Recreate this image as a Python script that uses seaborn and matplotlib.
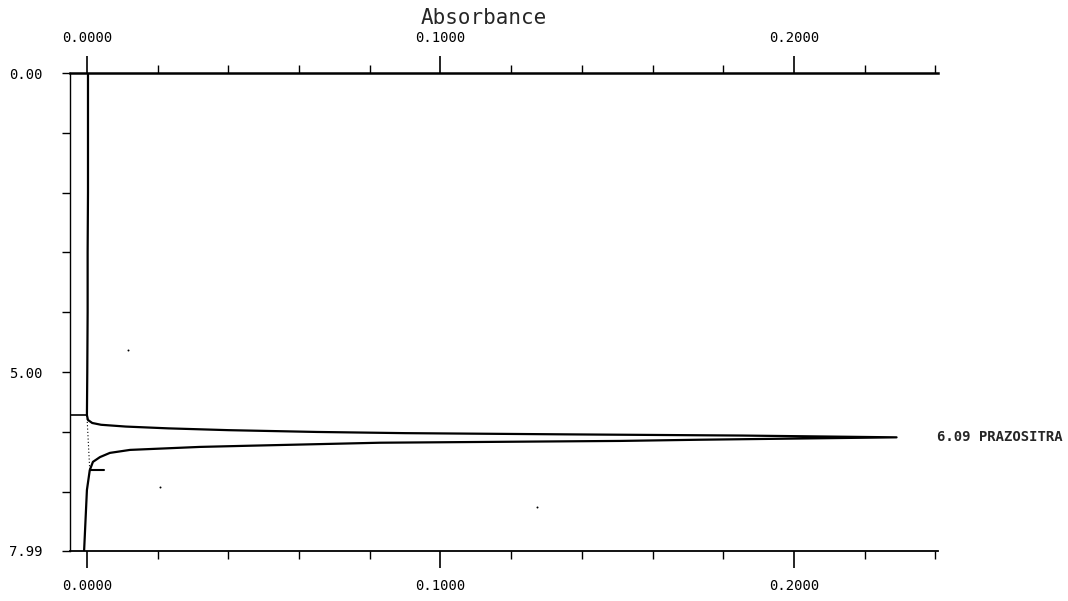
import matplotlib
matplotlib.use("Agg")
import matplotlib.pyplot as plt
import numpy as np
import pandas as pd
import seaborn as sns
from matplotlib.ticker import MultipleLocator, FixedLocator

# ---- data (time in min, absorbance) ----
time_min = [0.00, 1.00, 2.00, 3.00, 4.00, 5.00, 5.72, 5.80, 5.85, 5.88, 5.91,
            5.94, 5.97, 6.00, 6.02, 6.04, 6.06, 6.09, 6.13, 6.15, 6.18, 6.23,
            6.25, 6.30, 6.35, 6.42, 6.50, 6.64, 6.97, 7.99]
absorbance = [0.0003, 0.0003, 0.0003, 0.0002, 0.0002, 0.0001, 0.0000, 0.0003,
              0.0015, 0.0040, 0.0110, 0.0230, 0.0400, 0.0650, 0.0900, 0.1350,
              0.1850, 0.2290, 0.1734, 0.1508, 0.0829, 0.0461, 0.0320, 0.0122,
              0.0065, 0.0037, 0.0017, 0.0008, 0.0000, -0.0008]

peak_time = 6.09
peak_abs = 0.2290
peak_name = "PRAZOSITRA"
peak_start_time = 5.72
peak_start_abs = 0.0000
peak_end_time = 6.64
peak_end_abs = 0.0008
peak_end_mark_abs = 0.0048

speck_time = [4.63, 6.92, 7.25]
speck_abs = [0.0116, 0.0207, 0.1273]

x_major = [0.0, 0.1, 0.2]
x_labels = ["0.0000", "0.1000", "0.2000"]
y_ticks = [0, 1, 2, 3, 4, 5, 6, 7, 7.99]
y_labels = ["0.00", "", "", "", "", "5.00", "", "", "7.99"]
x_title = "Absorbance"

# ---- styling ----
sns.set_style("ticks")
plt.rcParams["font.family"] = ["DejaVu Sans Mono", "DejaVu Sans"]
plt.rcParams["font.size"] = 10

fig = plt.figure(figsize=(10.68, 6.01), dpi=100)
ax = fig.add_axes([0.0655, 0.0832, 0.8127, 0.7953])

df = pd.DataFrame({"Absorbance": absorbance, "Time": time_min})
sns.lineplot(data=df, x="Absorbance", y="Time", sort=False, estimator=None,
             color="black", linewidth=1.6, ax=ax)

# baseline (dotted) between peak start and end
ax.plot([peak_start_abs, peak_end_abs], [peak_start_time, peak_end_time],
        color="black", linestyle=(0, (1, 2)), linewidth=0.8)
# peak start marker from the left axis
ax.plot([-0.0048, peak_start_abs], [peak_start_time, peak_start_time],
        color="black", linewidth=1.2)
# peak end marker
ax.plot([peak_end_abs, peak_end_mark_abs], [peak_end_time, peak_end_time],
        color="black", linewidth=1.5)
# specks
ax.scatter(speck_abs, speck_time, s=2, color="black", linewidths=0)

ax.set_xlim(-0.0048, 0.2407)
ax.set_ylim(7.99, 0)

ax.xaxis.set_major_locator(FixedLocator(x_major))
ax.set_xticklabels(x_labels)
ax.xaxis.set_minor_locator(MultipleLocator(0.02))
ax.tick_params(axis="x", which="both", top=True, bottom=True,
               labeltop=True, labelbottom=True, direction="out",
               color="black", labelcolor="black")
ax.tick_params(axis="x", which="major", length=12, width=1.2, pad=8)
ax.tick_params(axis="x", which="minor", length=6, width=1.0)

ax.yaxis.set_major_locator(FixedLocator(y_ticks))
ax.set_yticklabels(y_labels)
ax.tick_params(axis="y", which="major", left=True, right=False,
               direction="out", length=6, width=1.0, pad=14,
               color="black", labelcolor="black")

ax.set_xlabel("")
ax.set_ylabel("")
for side in ["top", "bottom", "left"]:
    ax.spines[side].set_visible(True)
    ax.spines[side].set_color("black")
ax.spines["right"].set_visible(False)
ax.spines["top"].set_linewidth(1.8)
ax.spines["bottom"].set_linewidth(1.3)
ax.spines["left"].set_linewidth(1.0)

fig.text(484 / 1068, 1 - 18 / 601, x_title, ha="center", va="center",
         fontsize=15, family=["DejaVu Sans Mono"])

ax.annotate(f"{peak_time:.2f} {peak_name}", xy=(peak_abs, peak_time),
            xytext=(29, 0), textcoords="offset points", ha="left",
            va="center", fontsize=10, fontweight="bold",
            annotation_clip=False)

fig.savefig("out.png", dpi=100, facecolor="white")
